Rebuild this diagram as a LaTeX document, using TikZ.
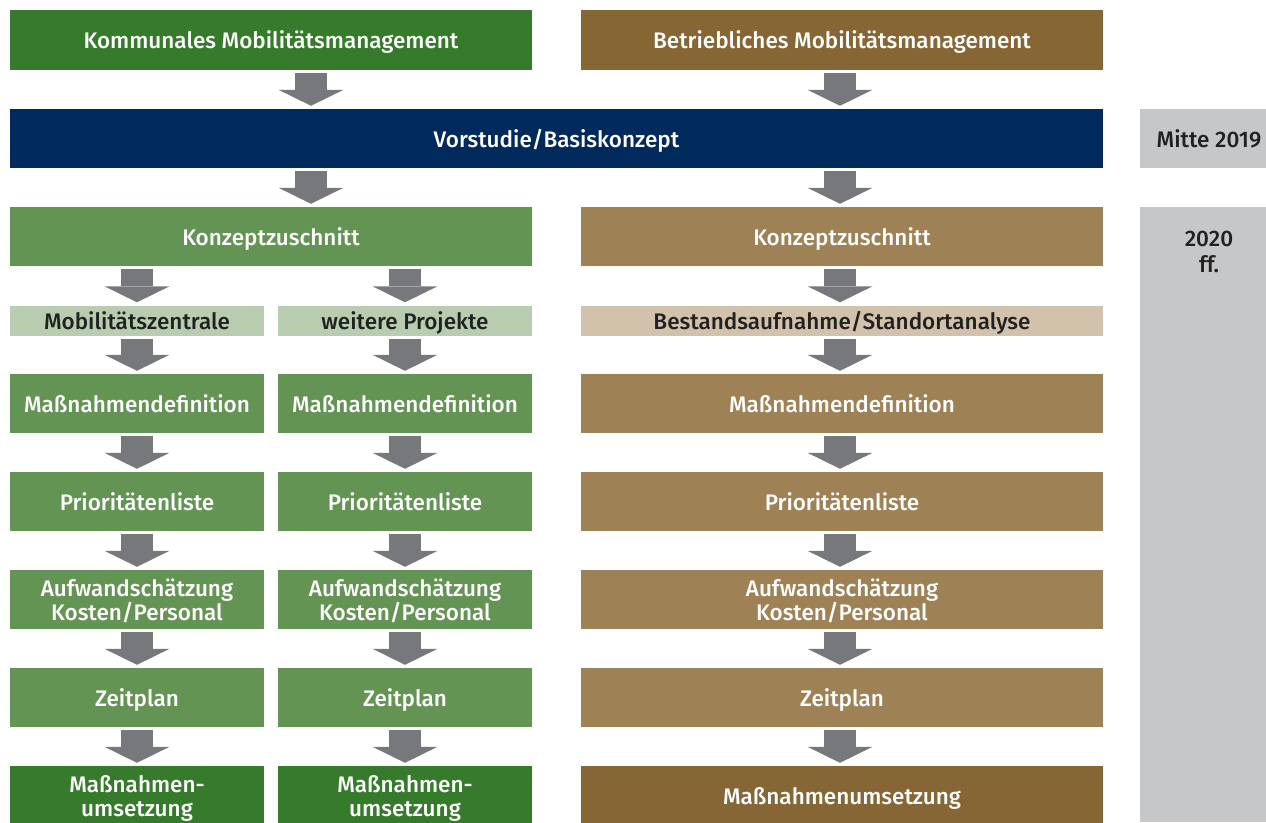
\documentclass[tikz,border=0pt]{standalone}
\usepackage{fontspec}
\setmainfont{Fira Sans}[UprightFont=* Medium]
\usetikzlibrary{arrows.meta}
\definecolor{gruenD}{HTML}{367B2C}
\definecolor{gruenM}{HTML}{639453}
\definecolor{gruenH}{HTML}{B8CDAF}
\definecolor{braunD}{HTML}{856634}
\definecolor{braunM}{HTML}{9F8156}
\definecolor{braunH}{HTML}{D2C1AB}
\definecolor{blau}{HTML}{002A5B}
\definecolor{grau}{HTML}{C6C7C9}
\definecolor{pfeilgrau}{HTML}{77787C}

\begin{document}
\begin{tikzpicture}
	[x=1pt, y=-1pt,
	box/.style={rectangle, inner sep=0pt, minimum height=60pt, text=white, align=center,
		text depth=0pt, font=\fontsize{22.5}{24}\selectfont},
	wide/.style={box, minimum width=522pt},
	half/.style={box, minimum width=254pt},
	flach/.style={minimum height=30pt, text=black!87},
	zeit/.style={box, fill=grau, minimum width=138pt, text=black!87},
	pfeil/.style={draw=pfeilgrau, line width=32pt,
		-{Triangle[length=16pt, width=65pt, line width=0pt]},
		shorten <=3pt, shorten >=3pt}]
	\useasboundingbox (0,0) rectangle (1266,822);
	% Kopfzeile
	\node[wide, fill=gruenD] (kom) at (271,40) {Kommunales Mobilitätsmanagement};
	\node[wide, fill=braunD] (bet) at (842,40) {Betriebliches Mobilitätsmanagement};
	\node[box, fill=blau, minimum width=1093pt, minimum height=59pt] (vor) at (556.5,138.5) {Vorstudie/Basiskonzept};
	\node[zeit, minimum height=59pt] (mitte) at (1209,138.5) {Mitte 2019};
	\node[zeit, minimum height=615pt] (ab20) at (1209,514.5) {};
	\node[text=black!87, align=center, font=\fontsize{22.5}{26}\selectfont] (ab20t) at (1209,252) {2020\\ff.};
	% Konzept
	\node[wide, fill=gruenM, minimum height=59pt] (kzL) at (271,236.5) {Konzeptzuschnitt};
	\node[wide, fill=braunM, minimum height=59pt] (kzR) at (842,236.5) {Konzeptzuschnitt};
	\node[half, flach, fill=gruenH] (mz) at (137,320.5) {Mobilitätszentrale};
	\node[half, flach, fill=gruenH] (wp) at (405,320.5) {weitere Projekte};
	\node[wide, flach, fill=braunH] (ba) at (842,320.5) {Bestandsaufnahme/Standortanalyse};
	% Spalten
	\foreach \c/\x/\w/\f in {a/137/254/gruenM, b/405/254/gruenM, c/842/522/braunM} {
		\node[box, minimum width=\w pt, minimum height=59pt, fill=\f] (md-\c) at (\x,403.5) {Maßnahmendefinition};
		\node[box, minimum width=\w pt, minimum height=59pt, fill=\f] (pl-\c) at (\x,501.5) {Prioritätenliste};
		\node[box, minimum width=\w pt, minimum height=59pt, fill=\f] (aw-\c) at (\x,599.5) {Aufwandschätzung\\Kosten/Personal};
		\node[box, minimum width=\w pt, minimum height=59pt, fill=\f] (zp-\c) at (\x,697.5) {Zeitplan};
	}
	\node[half, fill=gruenD] (mu-a) at (137,796) {Maßnahmen-\\umsetzung};
	\node[half, fill=gruenD] (mu-b) at (405,796) {Maßnahmen-\\umsetzung};
	\node[wide, fill=braunD] (mu-c) at (842,796) {Maßnahmenumsetzung};
	% Pfeile
	\draw[pfeil] ([xshift=40pt]kom.south) -- ([xshift=40pt]kom.south |- vor.north);
	\draw[pfeil] ([xshift=-2pt]bet.south) -- ([xshift=-2pt]bet.south |- vor.north);
	\draw[pfeil] ([xshift=40pt]kzL.north |- vor.south) -- ([xshift=40pt]kzL.north);
	\draw[pfeil] ([xshift=-2pt]kzR.north |- vor.south) -- ([xshift=-2pt]kzR.north);
	\draw[pfeil] (kzL.south -| mz.north) -- (mz.north);
	\draw[pfeil] (kzL.south -| wp.north) -- (wp.north);
	\draw[pfeil] ([xshift=-2pt]kzR.south) -- ([xshift=-2pt]ba.north);
	\draw[pfeil] (mz) -- (md-a);
	\draw[pfeil] (wp) -- (md-b);
	\draw[pfeil] ([xshift=-2pt]ba.south) -- ([xshift=-2pt]md-c.north);
	\foreach \c/\s in {a/0pt, b/0pt, c/-2pt} {
		\draw[pfeil] ([xshift=\s]md-\c.south) -- ([xshift=\s]pl-\c.north);
		\draw[pfeil] ([xshift=\s]pl-\c.south) -- ([xshift=\s]aw-\c.north);
		\draw[pfeil] ([xshift=\s]aw-\c.south) -- ([xshift=\s]zp-\c.north);
		\draw[pfeil] ([xshift=\s]zp-\c.south) -- ([xshift=\s]mu-\c.north);
	}
\end{tikzpicture}
\end{document}
